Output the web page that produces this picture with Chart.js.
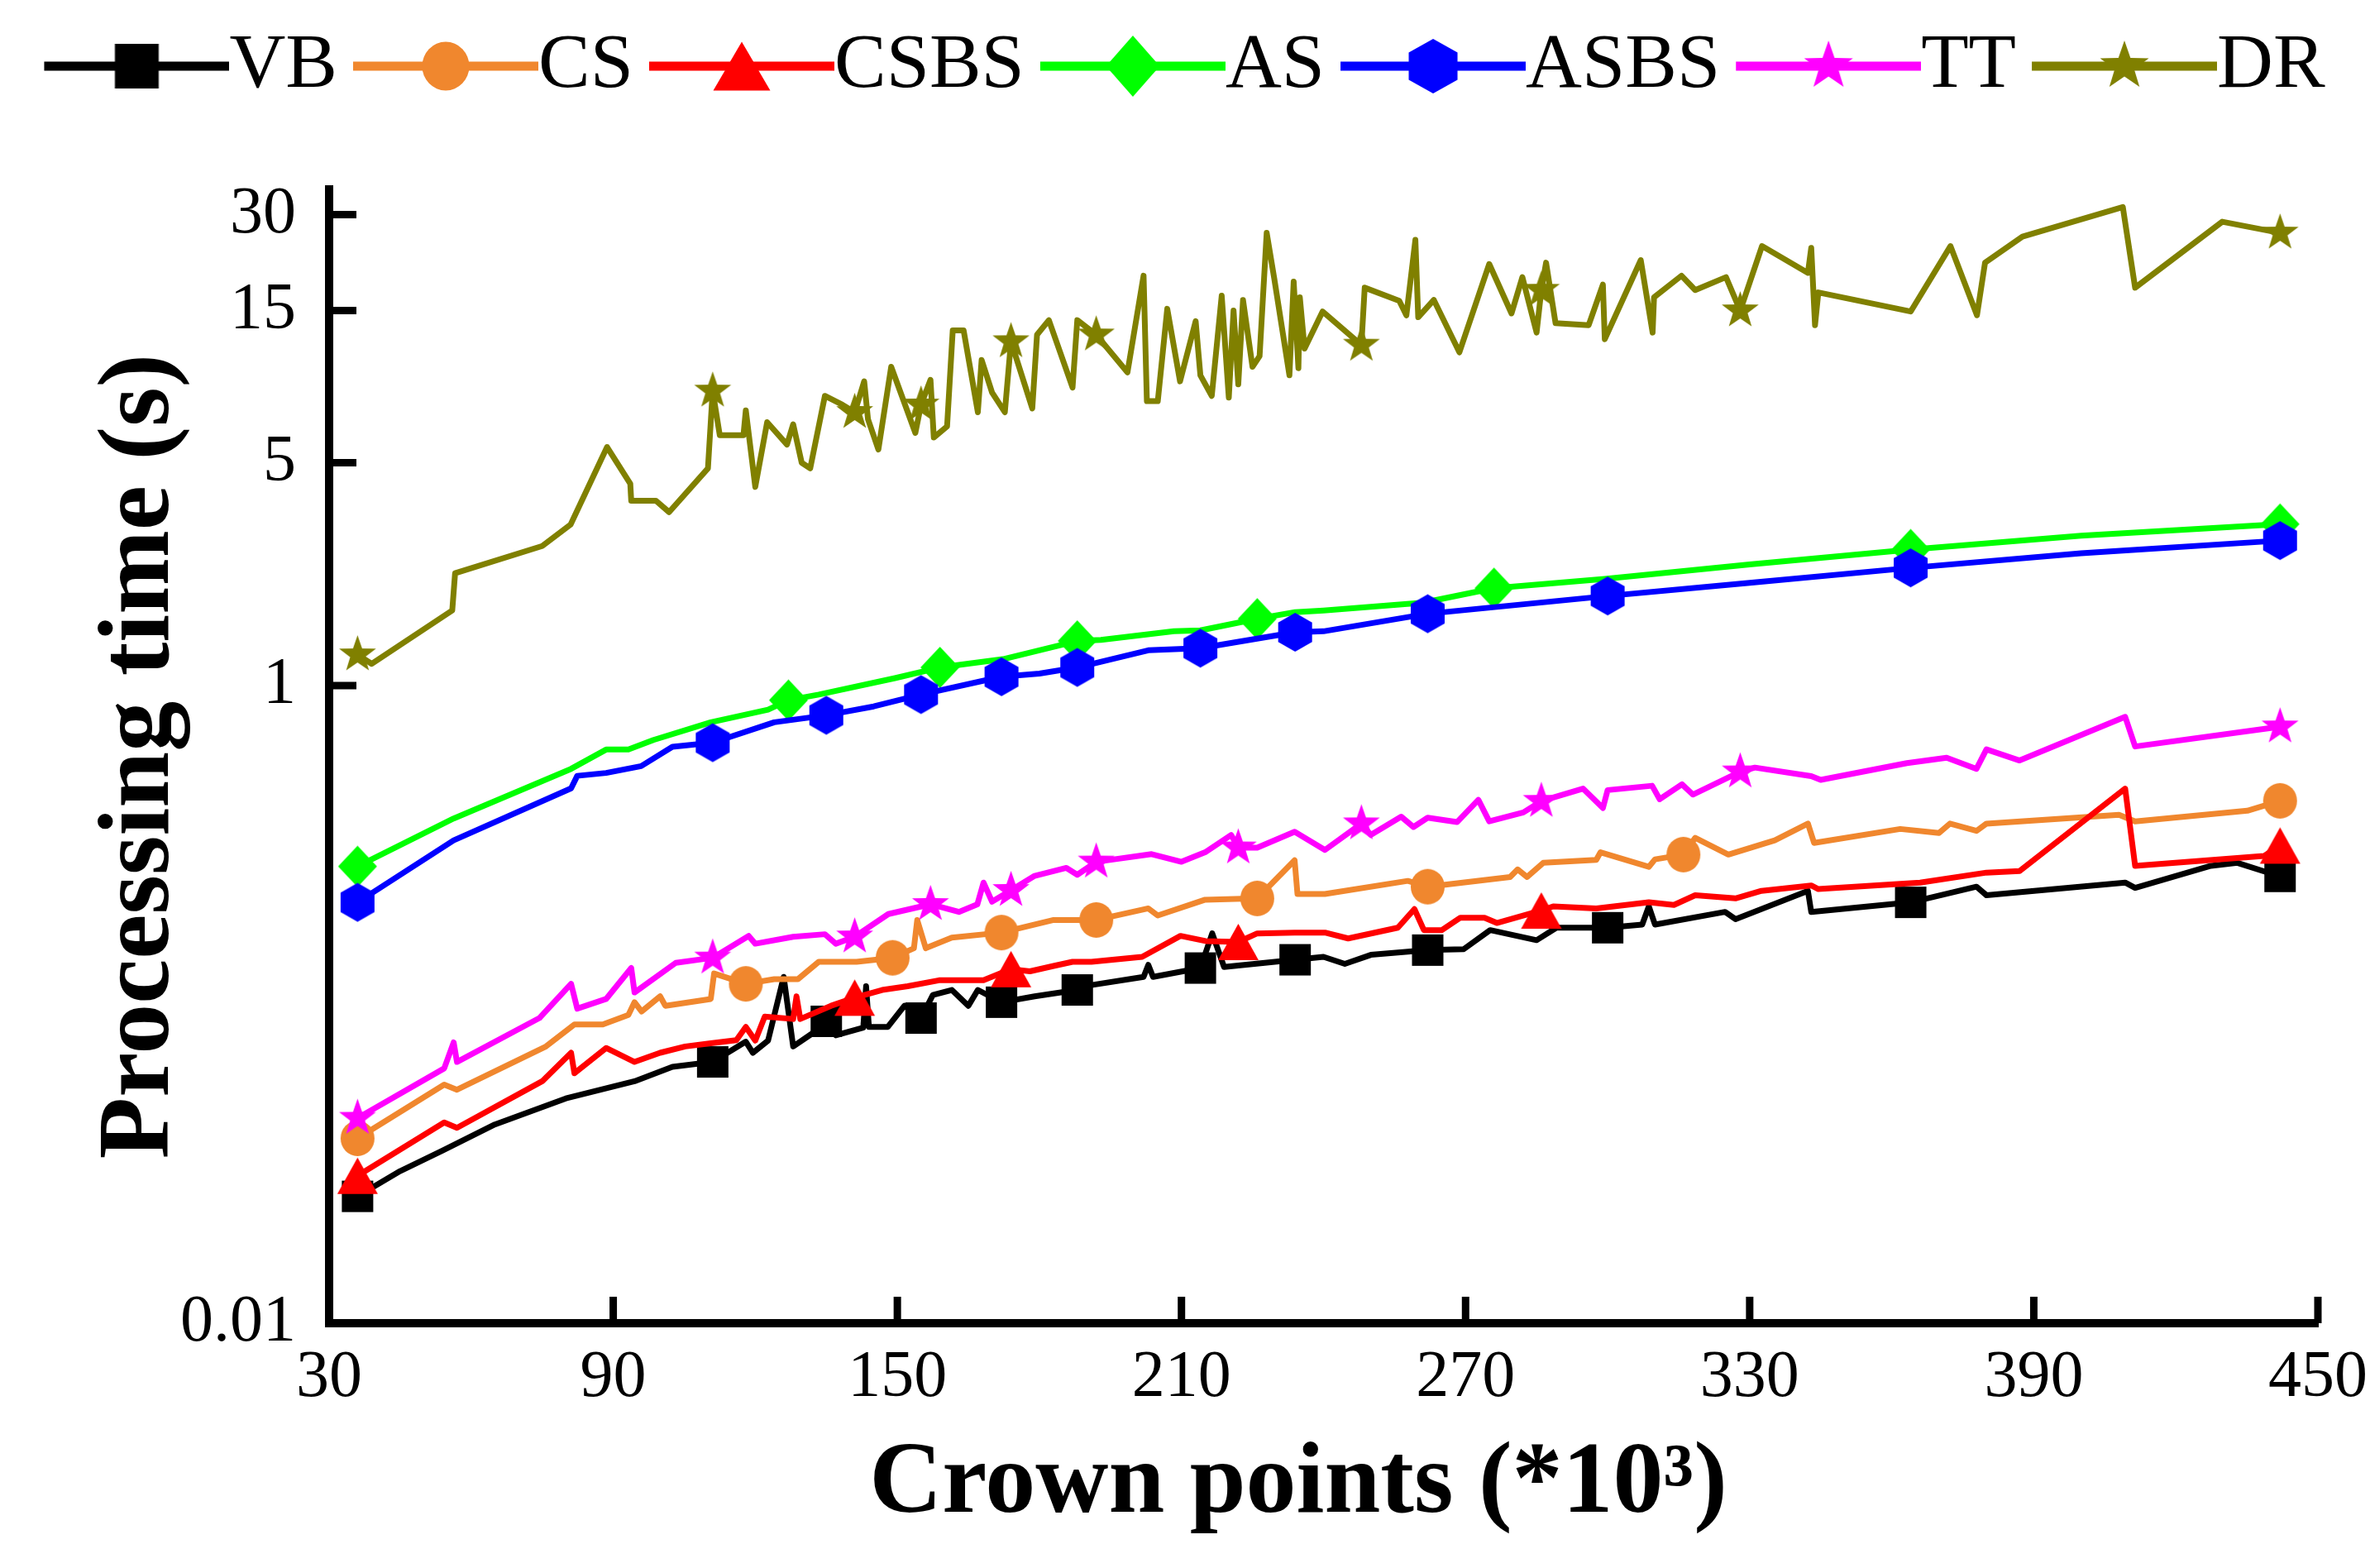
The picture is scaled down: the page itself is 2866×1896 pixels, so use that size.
<!DOCTYPE html>
<html>
<head>
<meta charset="utf-8">
<script src="https://cdn.jsdelivr.net/npm/chart.js@4.4.1/dist/chart.umd.min.js"></script>
<style>
  html, body { margin: 0; padding: 0; background: #fff; }
  #chart { display: block; }
</style>
</head>
<body>
<canvas id="chart" width="2866" height="1896"></canvas>
<script>
// ---- data (x = crown points *10^3, y = seconds) ----
const seriesNames = ['VB', 'CS', 'CSBS', 'AS', 'ASBS', 'TT', 'DR'];

const vbX = [36, 45, 54, 65, 80, 94.5, 102.5, 111, 118, 119.5, 122.7, 126, 128, 132, 135, 137, 142.8, 143.4, 144, 148, 151.5, 155, 157.5, 161.5, 165, 167, 172, 179, 188, 191, 202, 203, 204, 214, 216.5, 219, 234, 240, 244.5, 250, 262, 269.6, 275.2, 285, 289.2, 300, 307.3, 308.7, 310, 324.8, 327, 342.3, 343, 364, 377.9, 380, 409.3, 411.4, 427.4, 433, 442];
const vbY = [0.025, 0.030, 0.0348, 0.042, 0.0507, 0.0574, 0.0637, 0.066, 0.0764, 0.0705, 0.077, 0.122, 0.0738, 0.081, 0.0885, 0.08, 0.0845, 0.114, 0.085, 0.085, 0.099, 0.0906, 0.107, 0.111, 0.099, 0.111, 0.1016, 0.106, 0.111, 0.115, 0.122, 0.133, 0.122, 0.13, 0.167, 0.131, 0.138, 0.141, 0.134, 0.143, 0.148, 0.149, 0.171, 0.159, 0.174, 0.174, 0.178, 0.203, 0.178, 0.195, 0.185, 0.227, 0.195, 0.209, 0.234, 0.22, 0.241, 0.232, 0.272, 0.278, 0.252];
const vbMarks = [36, 111, 135, 155, 172, 188, 214, 234, 262, 300, 364, 442];

const csX = [36, 54.3, 57, 75.8, 81.8, 87.8, 93.2, 94.5, 96, 99.9, 101, 110.6, 111.3, 118, 124, 129, 133.4, 141.4, 149, 153.5, 154.2, 156, 161.5, 172, 183, 192, 203, 205, 215, 226, 233.9, 234.5, 240.3, 257.8, 262, 279.4, 281, 283, 286.4, 297.6, 298.5, 308.7, 310, 316, 318.5, 325.5, 335.3, 342.3, 343.6, 361.8, 370, 372.3, 377.9, 380, 408, 411.4, 435.1, 442];
const csY = [0.038, 0.056, 0.054, 0.0738, 0.0865, 0.0865, 0.0927, 0.1016, 0.095, 0.106, 0.099, 0.104, 0.125, 0.116, 0.12, 0.12, 0.136, 0.136, 0.14, 0.15, 0.184, 0.15, 0.162, 0.168, 0.184, 0.184, 0.2, 0.19, 0.213, 0.215, 0.283, 0.222, 0.222, 0.244, 0.234, 0.251, 0.265, 0.251, 0.278, 0.284, 0.30, 0.27, 0.285, 0.295, 0.333, 0.295, 0.327, 0.369, 0.321, 0.355, 0.345, 0.369, 0.35, 0.369, 0.393, 0.375, 0.405, 0.435];
const csMarks = [36, 118, 149, 172, 192, 226, 262, 316, 442];

const csbsX = [36, 54.3, 57, 75, 81.1, 81.8, 88.5, 94.5, 99.9, 105.2, 110.6, 116, 118, 120, 122, 128, 128.7, 129.5, 136, 141, 146.8, 152.2, 158.8, 168.2, 174, 178, 183, 187, 191, 201.7, 209.8, 215.1, 222, 226, 233.9, 240.3, 245.2, 255.7, 259.2, 261.2, 265, 268.9, 274, 276.6, 286, 288.5, 297.6, 308.7, 314, 318.5, 327, 332.5, 343, 344.5, 366, 380, 387, 409.3, 411.4, 438.6, 442];
const csbsY = [0.029, 0.0426, 0.041, 0.0574, 0.0705, 0.0608, 0.073, 0.066, 0.0705, 0.0738, 0.0755, 0.0772, 0.085, 0.077, 0.0916, 0.09, 0.106, 0.09, 0.099, 0.105, 0.111, 0.114, 0.119, 0.119, 0.129, 0.127, 0.132, 0.136, 0.136, 0.141, 0.164, 0.158, 0.157, 0.167, 0.168, 0.168, 0.161, 0.174, 0.199, 0.171, 0.171, 0.187, 0.187, 0.18, 0.197, 0.203, 0.2, 0.209, 0.205, 0.22, 0.215, 0.227, 0.236, 0.23, 0.241, 0.259, 0.262, 0.475, 0.272, 0.292, 0.315];
const csbsMarks = [36, 141, 174, 222, 286, 442];

const asX = [36, 56.3, 81.1, 88.5, 93.2, 98.5, 110.6, 122.7, 127, 133.4, 149.5, 159, 172.3, 188, 193, 208.4, 214, 226, 234, 240, 261, 276, 299.4, 330, 364, 400, 442];
const asY = [0.271, 0.383, 0.548, 0.63, 0.63, 0.675, 0.767, 0.84, 0.9, 0.937, 1.055, 1.14, 1.21, 1.38, 1.39, 1.48, 1.49, 1.62, 1.70, 1.72, 1.82, 2.02, 2.16, 2.4, 2.67, 2.95, 3.21];
const asMarks = [36, 127, 159, 188, 226, 276, 364, 442];

const asbsX = [36, 56.3, 81.1, 82.4, 88.5, 95.9, 102.5, 111, 124, 135, 145, 155, 172, 180, 188, 203, 214, 234, 240, 262, 300, 330, 364, 400, 442];
const asbsY = [0.209, 0.327, 0.476, 0.521, 0.532, 0.559, 0.643, 0.662, 0.767, 0.807, 0.86, 0.937, 1.066, 1.09, 1.14, 1.29, 1.31, 1.47, 1.48, 1.68, 1.91, 2.1, 2.34, 2.6, 2.85];
const asbsMarks = [36, 111, 135, 155, 172, 188, 214, 234, 262, 300, 364, 442];

const ttX = [36, 54.3, 56.3, 57, 74.4, 81.1, 82.4, 88.5, 93.8, 94.5, 103.2, 111, 118.6, 120, 128, 134.7, 137, 141, 148.1, 157, 163, 166.9, 168.2, 170, 174, 179, 185.7, 188, 192, 203.7, 210, 215, 220.5, 222, 226, 233.9, 240.3, 248, 250, 256.4, 259, 262, 268.2, 272.7, 275, 282.2, 286, 294.8, 299, 300, 309.4, 311, 315.7, 318, 328, 331.1, 343, 345, 363.2, 371.6, 377.9, 380, 387, 409.3, 411.4, 442];
const ttY = [0.044, 0.063, 0.076, 0.066, 0.0906, 0.116, 0.097, 0.104, 0.13, 0.109, 0.135, 0.14, 0.164, 0.155, 0.163, 0.166, 0.155, 0.163, 0.192, 0.206, 0.195, 0.206, 0.241, 0.21, 0.228, 0.253, 0.268, 0.255, 0.28, 0.296, 0.28, 0.30, 0.34, 0.31, 0.31, 0.348, 0.305, 0.369, 0.34, 0.388, 0.36, 0.385, 0.373, 0.438, 0.375, 0.4, 0.434, 0.475, 0.413, 0.47, 0.485, 0.44, 0.49, 0.455, 0.537, 0.553, 0.52, 0.506, 0.571, 0.594, 0.548, 0.631, 0.582, 0.798, 0.644, 0.743];
const ttMarks = [36, 111, 141, 157, 174, 192, 222, 248, 286, 328, 442];

const drX = [36, 39, 56, 56.6, 75, 81, 88.7, 93.6, 93.8, 99, 101.8, 110, 111, 112.5, 117.5, 118, 120, 122.5, 126.7, 128, 129.8, 131.6, 134.7, 138.4, 141, 143, 143.8, 146, 148.7, 153.8, 155, 157, 157.7, 160.5, 161.7, 164, 167, 167.8, 170, 172.7, 174, 178.5, 179.5, 182, 187, 188, 192, 198.6, 202, 202.7, 205, 207, 209.7, 213, 214, 216.4, 218.5, 220, 221, 222, 223, 225, 226.5, 228, 229.6, 232.8, 233.7, 234.7, 235, 236, 239.8, 248, 248.7, 256, 257.5, 259.4, 260, 263.3, 268.7, 275, 279.7, 282, 283.6, 285, 286, 287, 289, 296, 299, 299.4, 307, 309.5, 309.8, 315.6, 318.5, 325, 328, 332.6, 342.3, 343, 343.8, 344.5, 364, 372.4, 378, 379.7, 387.6, 408.8, 411.4, 429.8, 442];
const drY = [1.25, 1.17, 1.72, 2.25, 2.74, 3.2, 5.6, 4.3, 3.8, 3.8, 3.5, 4.8, 8.4, 6.1, 6.1, 7.3, 4.2, 6.7, 5.7, 6.6, 5.0, 4.8, 8.1, 7.6, 7.2, 9.0, 6.85, 5.5, 10, 6.2, 7.6, 9.1, 6.0, 6.5, 13, 13, 7.2, 10.5, 8.3, 7.2, 12, 7.4, 12.6, 14, 8.6, 14, 12.6, 9.6, 19.3, 7.8, 7.8, 15.2, 9.0, 13.9, 9.4, 8.1, 16.7, 8.0, 15, 8.8, 16.2, 10, 10.8, 26.3, 18.9, 9.4, 18.5, 9.9, 16.5, 11.4, 14.9, 11.7, 17.7, 16.1, 14.5, 25, 14.3, 16.2, 11.1, 21, 14.7, 19.1, 15.4, 12.8, 17.4, 21.2, 13.7, 13.5, 18.1, 12.2, 21.6, 12.8, 16.5, 19.3, 17.4, 19.1, 15, 23.9, 19.7, 23.6, 13.5, 17.1, 14.9, 23.9, 14.5, 21.2, 25.6, 31.7, 17.7, 28.5, 26.3];
const drMarks = [36, 111, 141, 155, 174, 192, 248, 286, 328, 442];

const xTicks = [30, 90, 150, 210, 270, 330, 390, 450];
const yTicks = [0.01, 1, 5, 15, 30];
const yMax = 36;

// ---- look ----
const FONT = "'Liberation Serif', 'Times New Roman', serif";
const colors = ['#000000', '#F0872E', '#FF0000', '#00FF00', '#0000FF', '#FF00FF', '#808000'];
const shapes = ['square', 'circle', 'triangle', 'diamond', 'hexagon', 'star', 'star'];
const plotSizes = [[38, 38], [41, 43], [49, 44], [47, 50], [41, 47], [47, 47], [47, 47]];
const legendSizes = [[53, 54], [57, 59], [69, 59], [65, 74], [59, 66], [62, 62], [62, 62]];

function drawShape(g, shape, cx, cy, w, h) {
  g.beginPath();
  if (shape === 'square') {
    g.rect(cx - w / 2, cy - h / 2, w, h);
  } else if (shape === 'circle') {
    g.ellipse(cx, cy, w / 2, h / 2, 0, 0, Math.PI * 2);
  } else if (shape === 'triangle') {
    g.moveTo(cx, cy - h / 2);
    g.lineTo(cx + w / 2, cy + h / 2);
    g.lineTo(cx - w / 2, cy + h / 2);
  } else if (shape === 'diamond') {
    g.moveTo(cx, cy - h / 2);
    g.lineTo(cx + w / 2, cy);
    g.lineTo(cx, cy + h / 2);
    g.lineTo(cx - w / 2, cy);
  } else if (shape === 'hexagon') {
    for (let i = 0; i < 6; i++) {
      const a = -Math.PI / 2 + i * Math.PI / 3;
      const px = cx + Math.cos(a) * (w / 2) / Math.cos(Math.PI / 6);
      const py = cy + Math.sin(a) * h / 2;
      if (i === 0) g.moveTo(px, py); else g.lineTo(px, py);
    }
  } else if (shape === 'star') {
    const R = h / 2, r = R * 0.4;
    for (let i = 0; i < 10; i++) {
      const a = -Math.PI / 2 + i * Math.PI / 5;
      const rr = i % 2 === 0 ? R : r;
      const px = cx + Math.cos(a) * rr;
      const py = cy + Math.sin(a) * rr;
      if (i === 0) g.moveTo(px, py); else g.lineTo(px, py);
    }
  }
  g.closePath();
  g.fill();
}

function makeMarker(i) {
  const [w, h] = plotSizes[i];
  const c = document.createElement('canvas');
  c.width = w + 4;
  c.height = h + 4;
  const g = c.getContext('2d');
  g.fillStyle = colors[i];
  drawShape(g, shapes[i], c.width / 2, c.height / 2, w, h);
  return c;
}

// legend symbol: line + marker, sized so the line runs right up to the text
const LEGEND_FONT = 94;
const LEGEND_BOX = 177;
function makeLegendIcon(i) {
  const half = LEGEND_FONT / 2;
  const c = document.createElement('canvas');
  c.width = LEGEND_BOX + 2 * half;
  c.height = 80;
  const g = c.getContext('2d');
  const y = c.height / 2;
  g.strokeStyle = colors[i];
  g.lineWidth = 11;
  g.beginPath();
  g.moveTo(half, y);
  g.lineTo(c.width, y);
  g.stroke();
  g.fillStyle = colors[i];
  const [w, h] = legendSizes[i];
  drawShape(g, shapes[i], (half + c.width) / 2, y, w, h);
  return c;
}

const allX = [vbX, csX, csbsX, asX, asbsX, ttX, drX];
const allY = [vbY, csY, csbsY, asY, asbsY, ttY, drY];
const allMarks = [vbMarks, csMarks, csbsMarks, asMarks, asbsMarks, ttMarks, drMarks];

const datasets = seriesNames.map((name, i) => {
  const marks = allMarks[i];
  return {
    label: name,
    data: allX[i].map((x, k) => ({ x: x, y: allY[i][k] })),
    borderColor: colors[i],
    backgroundColor: colors[i],
    borderWidth: 7,
    borderJoinStyle: 'round',
    pointStyle: makeMarker(i),
    pointRadius: (ctx) => (ctx.raw && marks.includes(ctx.raw.x)) ? 20 : 0,
    fill: false,
    tension: 0,
    order: seriesNames.length - i
  };
});
const legendIcons = seriesNames.map((n, i) => makeLegendIcon(i));

// ticks on the inside of the axes
const innerTicks = {
  id: 'innerTicks',
  afterDraw(chart) {
    const { ctx, chartArea, scales } = chart;
    ctx.save();
    ctx.strokeStyle = '#000';
    ctx.lineWidth = 9;
    yTicks.slice(1).forEach((v) => {
      const y = scales.y.getPixelForValue(v);
      ctx.beginPath();
      ctx.moveTo(chartArea.left, y);
      ctx.lineTo(chartArea.left + 33, y);
      ctx.stroke();
    });
    xTicks.slice(1).forEach((v) => {
      const x = scales.x.getPixelForValue(v);
      ctx.beginPath();
      ctx.moveTo(x, chartArea.bottom);
      ctx.lineTo(x, chartArea.bottom - 32);
      ctx.stroke();
    });
    ctx.restore();
  }
};

// extra room under the legend, and nudge it to where the figure has it
const legendSpace = {
  id: 'legendSpace',
  beforeInit(chart) {
    const fit = chart.legend.fit;
    chart.legend.fit = function () {
      fit.call(this);
      this.height += 92;
    };
  },
  afterLayout(chart) {
    chart.legend.left += 31;
    chart.legend.right += 31;
  }
};

Chart.defaults.font.family = FONT;
Chart.defaults.color = '#000';

new Chart(document.getElementById('chart'), {
  type: 'line',
  data: { datasets },
  plugins: [innerTicks, legendSpace],
  options: {
    responsive: false,
    devicePixelRatio: 1,
    animation: false,
    events: [],
    layout: { padding: { top: 14, right: 63, bottom: 0, left: 0 } },
    plugins: {
      tooltip: { enabled: false },
      legend: {
        position: 'top',
        labels: {
          usePointStyle: true,
          pointStyleWidth: LEGEND_BOX,
          padding: 19,
          font: { size: LEGEND_FONT, family: FONT },
          color: '#000',
          generateLabels: () => seriesNames.map((name, i) => ({
            text: name,
            pointStyle: legendIcons[i],
            datasetIndex: i,
            hidden: false,
            lineWidth: 0,
            fillStyle: colors[i],
            strokeStyle: colors[i]
          }))
        }
      }
    },
    scales: {
      x: {
        type: 'linear',
        min: 30,
        max: 450,
        grid: { display: false, drawTicks: false },
        border: { display: true, width: 10, color: '#000' },
        afterBuildTicks: (scale) => { scale.ticks = xTicks.map((v) => ({ value: v })); },
        afterFit: (scale) => {
          scale.height = 296;
          scale.paddingLeft = 0;
          scale.paddingRight = 0;
        },
        ticks: {
          autoSkip: false,
          maxRotation: 0,
          padding: 19,
          font: { size: 80, family: FONT },
          color: '#000'
        },
        title: {
          display: true,
          text: 'Crown points (*10\u00B3)\u2002',
          font: { size: 122, weight: 'bold', family: FONT },
          color: '#000',
          padding: { top: 0, bottom: 26 }
        }
      },
      y: {
        type: 'logarithmic',
        min: yTicks[0],
        max: yMax,
        grid: { display: false, drawTicks: false },
        border: { display: true, width: 10, color: '#000' },
        afterBuildTicks: (scale) => { scale.ticks = yTicks.map((v) => ({ value: v })); },
        afterFit: (scale) => {
          scale.width = 398;
          scale.paddingTop = 0;
          scale.paddingBottom = 0;
        },
        ticks: {
          padding: 40,
          font: { size: 80, family: FONT },
          color: '#000',
          callback: (v) => String(v)
        },
        title: {
          display: true,
          text: 'Processing time (s)',
          font: { size: 122, weight: 'bold', family: FONT },
          color: '#000',
          padding: { top: 98, bottom: 0 }
        }
      }
    }
  }
});
</script>
</body>
</html>
